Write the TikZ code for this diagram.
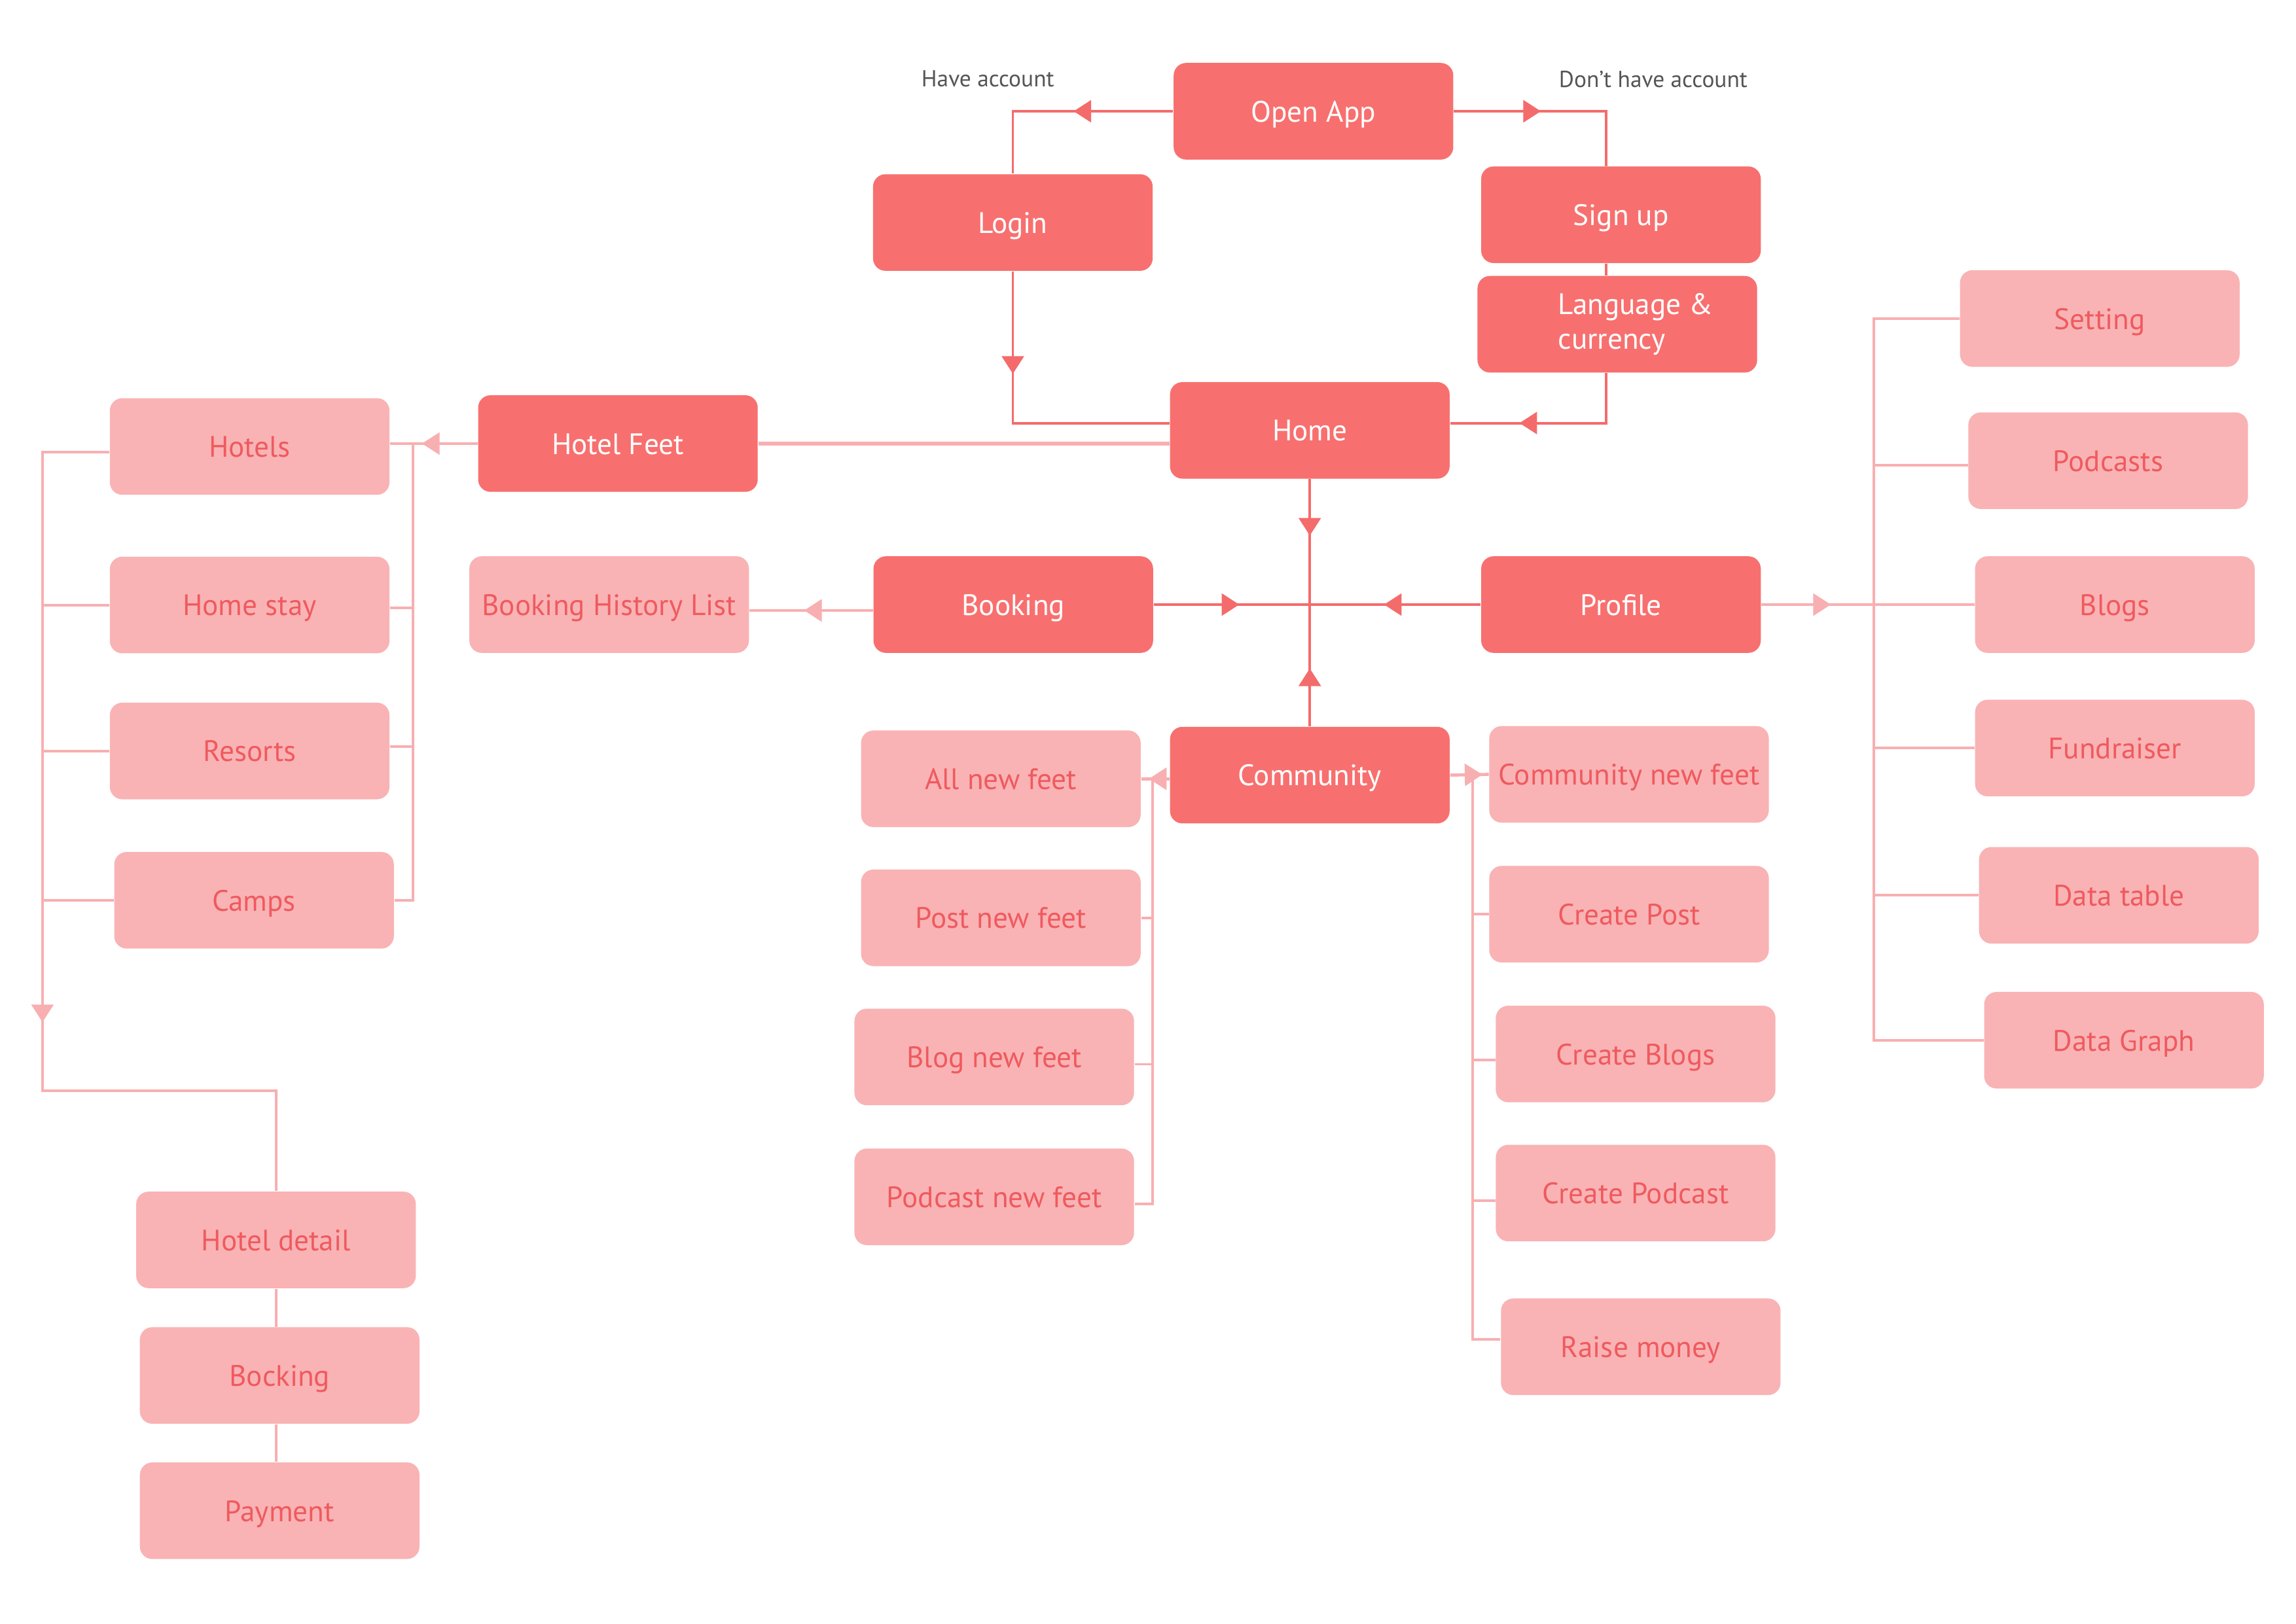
\documentclass[tikz,border=0pt]{standalone}
\usepackage{fontspec}
\setmainfont{PT Sans}
\usetikzlibrary{arrows.meta,decorations.markings,calc}
\definecolor{boxdark}{HTML}{F7706F}
\definecolor{boxlight}{HTML}{F9B3B5}
\definecolor{txtlight}{HTML}{EF5A5E}
\definecolor{linedark}{HTML}{F46B6B}
\definecolor{linelight}{HTML}{F8AFB1}
\definecolor{graytxt}{HTML}{555555}
\begin{document}
\begin{tikzpicture}[x=0.02cm,y=-0.02cm,
  base/.style={rounded corners=0.17cm, minimum width=3.82cm, minimum height=1.32cm, inner sep=0pt,
    font=\fontsize{11.5}{14}\selectfont, text height=0.29cm, text depth=0pt},
  dark/.style={base, fill=boxdark, text=white},
  light/.style={base, fill=boxlight, text=txtlight},
  rline/.style={color=linedark, line width=1pt},
  lline/.style={color=linelight, line width=1pt},
  tipat/.style={postaction={decorate}, decoration={markings, mark=at position #1 with {\arrow{Triangle[length=0.24cm,width=0.30cm]}}}},
  note/.style={text=graytxt, font=\fontsize{9}{11}\selectfont}
]
\useasboundingbox (0,0) rectangle (1568,1109);
\fill[white] (0,0) rectangle (1568,1109);

% dark nodes
\node[dark] (open) at (897,76) {Open App};
\node[dark] (login) at (691.7,152) {Login};
\node[dark] (signup) at (1107,146.7) {Sign up};
\node[dark, text height=, text depth=, align=left, font=\fontsize{11.5}{13.6}\selectfont] (lang) at (1104.5,221.5)
  {\hspace*{0.5cm}Language \&\\\hspace*{0.5cm}currency};
\node[dark] (home) at (894.5,294) {Home};
\node[dark] (hotelfeet) at (422,303) {Hotel Feet};
\node[dark] (booking) at (692,413) {Booking};
\node[dark] (profile) at (1107,413) {Profile};
\node[dark] (community) at (894.5,529.5) {Community};

% light nodes
\node[light] (hotels) at (170.5,305) {Hotels};
\node[light] (homestay) at (170.5,413.3) {Home stay};
\node[light] (resorts) at (170.5,513) {Resorts};
\node[light] (camps) at (173.5,615) {Camps};
\node[light] (history) at (416,413) {Booking History List};
\node[light] (allnew) at (683.5,532) {All new feet};
\node[light] (postnew) at (683.5,627) {Post new feet};
\node[light] (blognew) at (679,722) {Blog new feet};
\node[light] (podnew) at (679,817.6) {Podcast new feet};
\node[light] (commnew) at (1112.5,529) {Community new feet};
\node[light] (cpost) at (1112.5,624.5) {Create Post};
\node[light] (cblogs) at (1117,720) {Create Blogs};
\node[light] (cpod) at (1117,815) {Create Podcast};
\node[light] (raise) at (1120.5,920) {Raise money};
\node[light] (setting) at (1434,217.6) {Setting};
\node[light] (podcasts) at (1439.7,314.7) {Podcasts};
\node[light] (blogs) at (1444.3,413) {Blogs};
\node[light] (fund) at (1444.3,511) {Fundraiser};
\node[light] (dtable) at (1447,611.6) {Data table};
\node[light] (dgraph) at (1450.5,710.6) {Data Graph};
\node[light] (hdetail) at (188.5,847) {Hotel detail};
\node[light] (bocking) at (191,939.6) {Bocking};
\node[light] (payment) at (191,1032) {Payment};

% notes
\node[note] (have) at (674.6,54) {Have account};
\node[note] (donthave) at (1129,54) {Don’t have account};

% helper coordinates
\coordinate (sux) at ($(signup.north)+(-10,0)$);
\coordinate (hub) at (894.5,413);
\coordinate (busA) at (282,303);
\coordinate (lbus) at (29,745);
\coordinate (rbus) at (1279.5,413);
\coordinate (cl) at (787,532);
\coordinate (cr) at (1005.5,529);

% dark connectors
\draw[rline, tipat=1.36cm] (open.west) -| (login.north);
\draw[rline, tipat=1.19cm] (open.east) -| (sux);
\draw[rline] (signup.south -| sux) -- (lang.north -| sux);
\draw[rline, tipat=1.87cm] (lang.south -| sux) |- ($(home.east)+(0,-5)$);
\draw[rline, tipat=1.4cm] (login.south) |- ($(home.west)+(0,-5)$);
\draw[rline, tipat=0.77cm] (home.south) -- (hub);
\draw[rline, tipat=0.79cm] (community.north) -- (hub);
\draw[rline, tipat=1.17cm] (booking.east) -- (hub);
\draw[rline, tipat=1.32cm] (profile.west) -- (hub);

% light connectors: hotels
\draw[lline, line width=1.4pt] (hotelfeet.east) -- (hotelfeet.east -| home.west);
\draw[lline, tipat=0.76cm] (hotelfeet.west) -- (hotelfeet.west -| hotels.east);
\draw[lline] (busA) |- (camps.east);
\draw[lline] ($(homestay.east)+(0,2)$) -- ($(homestay.east -| busA)+(0,2)$);
\draw[lline] ($(resorts.east)+(0,-3)$) -- ($(resorts.east -| busA)+(0,-3)$);
\draw[lline, tipat=8.7cm] ($(hotels.west)+(0,4)$) -| (lbus) -| (hdetail.north);
\draw[lline] (homestay.west) -- (homestay.west -| lbus);
\draw[lline] (resorts.west) -- (resorts.west -| lbus);
\draw[lline] (camps.west) -- (camps.west -| lbus);
\draw[lline] (hdetail.south) -- (bocking.north -| hdetail.south);
\draw[lline] (bocking.south -| hdetail.south) -- (payment.north -| hdetail.south);

% booking history
\draw[lline, line width=1.2pt, tipat=0.94cm] ($(booking.west)+(0,4)$) -- ($(history.east)+(0,4)$);

% profile
\draw[lline, tipat=0.95cm] (profile.east) -- (blogs.west);
\draw[lline] (setting.west) -| (rbus |- dgraph.west) -- (dgraph.west);
\draw[lline] ($(podcasts.west)+(0,3)$) -- ($(podcasts.west -| rbus)+(0,3)$);
\draw[lline] (fund.west) -- (fund.west -| rbus);
\draw[lline] (dtable.west) -- (dtable.west -| rbus);

% community
\draw[lline, line width=1.2pt, tipat=0.28cm] (community.west |- allnew.east) -- (allnew.east);
\draw[lline] (cl) |- ($(podnew.east)+(0,5)$);
\draw[lline] (postnew.east) -- (postnew.east -| cl);
\draw[lline] ($(blognew.east)+(0,5)$) -- ($(blognew.east -| cl)+(0,5)$);
\draw[lline, line width=1.2pt, tipat=0.44cm] (community.east) -- (commnew.west);
\draw[lline] (cr) |- ($(raise.west)+(0,-5)$);
\draw[lline] (cpost.west) -- (cpost.west -| cr);
\draw[lline] ($(cblogs.west)+(0,4)$) -- ($(cblogs.west -| cr)+(0,4)$);
\draw[lline] ($(cpod.west)+(0,5)$) -- ($(cpod.west -| cr)+(0,5)$);
\end{tikzpicture}
\end{document}
